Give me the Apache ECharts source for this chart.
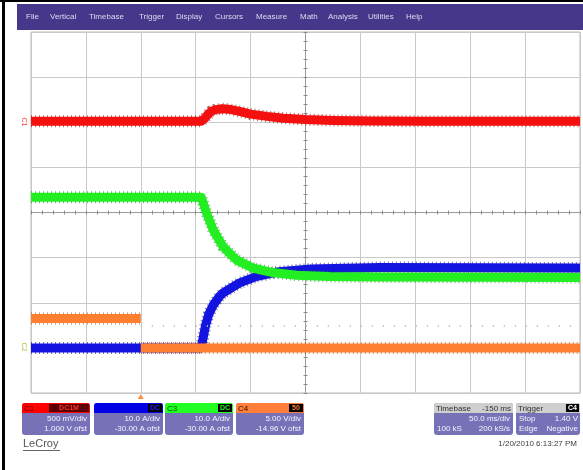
<!DOCTYPE html>
<html>
<head>
<meta charset="utf-8">
<script src="https://cdn.jsdelivr.net/npm/echarts@6/dist/echarts.min.js"></script>
<style>
html,body{margin:0;padding:0;background:#fff;}
#chart{width:583px;height:470px;}
</style>
</head>
<body>
<div id="chart"></div>
<script>
// ---- Data (time in ms, vertical position in screen divisions, 0 = centre) ----
const c1Time = [-100, 55, 58, 61, 64, 68, 74, 80, 90, 100, 115, 130, 150, 175, 210, 260, 400];
const c1Div  = [2.02, 2.02, 2.08, 2.17, 2.24, 2.28, 2.30, 2.29, 2.24, 2.18, 2.13, 2.09, 2.06, 2.04, 2.03, 2.02, 2.02];

const c2Time = [-100, 55, 57, 59, 62, 66, 72, 75, 90, 105, 126, 155, 218, 400];
const c2Div  = [-3.0, -3.0, -2.75, -2.5, -2.25, -2.05, -1.85, -1.78, -1.56, -1.42, -1.31, -1.25, -1.22, -1.23];

const c3Time = [-100, 55, 60, 66, 75, 87, 102, 120, 142, 172, 218, 400];
const c3Div  = [0.34, 0.34, -0.02, -0.39, -0.76, -1.05, -1.23, -1.33, -1.39, -1.42, -1.43, -1.44];

const c4PreTime  = [-100, 0];
const c4PreDiv   = [-2.35, -2.35];
const c4PostTime = [0, 400];
const c4PostDiv  = [-3.0, -3.0];

const menuItems = ['File','Vertical','Timebase','Trigger','Display','Cursors','Measure','Math','Analysis','Utilities','Help'];
const menuX = [26, 50, 89, 139, 176, 215, 256, 300, 328, 368, 406];

const chanNames   = ['C1','C2','C3','C4'];
const chanScale   = ['500 mV/div','10.0 A/div','10.0 A/div','5.00 V/div'];
const chanOffset  = ['1.000 V ofst','-30.00 A ofst','-30.00 A ofst','-14.96 V ofst'];
const chanBadge   = ['DC1M','DC','DC','50'];
const timebaseTxt = ['Timebase','-150 ms','50.0 ms/div','100 kS','200 kS/s'];
const triggerTxt  = ['Trigger','C4','Stop','1.40 V','Edge','Negative'];
const dateTxt = '1/20/2010 6:13:27 PM';

function zip(t, v){ return t.map((x,i)=>[x, v[i]]); }

const FONT = '"Liberation Sans", Arial, sans-serif';

function trace(name, t, v, main, dark, z){
  return [
    {name: name+'_edge', type:'line', xAxisIndex:0, yAxisIndex:0, data: zip(t,v), showSymbol:false,
     silent:true, z:z, lineStyle:{color:dark, width:12, type:[1,3], cap:'butt', join:'round', opacity:0.55}},
    {name: name, type:'line', xAxisIndex:0, yAxisIndex:0, data: zip(t,v), showSymbol:false,
     silent:true, z:z+0.5, lineStyle:{color:main, width:9, join:'round'}}
  ];
}

const chart = echarts.init(document.getElementById('chart'), null, {renderer:'canvas'});

const series = [].concat(
  trace('C2', c2Time, c2Div, '#1414e0', '#000070', 2),
  trace('C3', c3Time, c3Div, '#22ee22', '#0a7a0a', 3),
  trace('C1', c1Time, c1Div, '#f51010', '#800000', 4),
  trace('C4a', c4PreTime, c4PreDiv, '#ff7f30', '#9a3a08', 5),
  trace('C4b', c4PostTime, c4PostDiv, '#ff7f30', '#9a3a08', 5)
);
// faint dotted trigger-level line
series.push({type:'line', xAxisIndex:0, yAxisIndex:0, data:[], silent:true,
  markLine:{symbol:'none', silent:true, label:{show:false},
    lineStyle:{color:'#bbbbbb', type:[1,10], width:2},
    data:[[{coord:[0,-2.52]},{coord:[400,-2.52]}]]}});

const option = {
  animation:false,
  backgroundColor:'#ffffff',
  grid:{left:31, top:32, width:549, height:361, show:true, borderColor:'#b8b8b8', borderWidth:1, backgroundColor:'#fff'},
  xAxis:[
    {type:'value', min:-100, max:400, interval:50, axisLine:{show:false}, axisTick:{show:false}, axisLabel:{show:false},
     splitLine:{show:true, lineStyle:{color:'#c9c9c9', width:1}}},
    {type:'value', min:-5, max:5, interval:1, position:'bottom', axisLine:{show:true, onZero:true, onZeroAxisIndex:1, lineStyle:{color:'#9a9a9a', width:1}},
     axisTick:{show:true, inside:true, length:2, lineStyle:{color:'#8a8a8a'}}, minorTick:{show:true, splitNumber:5, length:2, lineStyle:{color:'#8a8a8a'}},
     axisLabel:{show:false}, splitLine:{show:false}},
    {type:'value', min:-5, max:5, interval:1, position:'top', axisLine:{show:false, onZero:true, onZeroAxisIndex:1},
     axisTick:{show:true, inside:true, length:2, lineStyle:{color:'#8a8a8a'}}, minorTick:{show:true, splitNumber:5, length:2, lineStyle:{color:'#8a8a8a'}},
     axisLabel:{show:false}, splitLine:{show:false}}
  ],
  yAxis:[
    {type:'value', min:-4, max:4, interval:1, axisLine:{show:false}, axisTick:{show:false}, axisLabel:{show:false},
     splitLine:{show:true, lineStyle:{color:'#c9c9c9', width:1}}},
    {type:'value', min:-4, max:4, interval:1, position:'left', axisLine:{show:true, onZero:true, onZeroAxisIndex:1, lineStyle:{color:'#9a9a9a', width:1}},
     axisTick:{show:true, inside:true, length:2, lineStyle:{color:'#8a8a8a'}}, minorTick:{show:true, splitNumber:5, length:2, lineStyle:{color:'#8a8a8a'}},
     axisLabel:{show:false}, splitLine:{show:false}},
    {type:'value', min:-4, max:4, interval:1, position:'right', axisLine:{show:false, onZero:true, onZeroAxisIndex:1},
     axisTick:{show:true, inside:true, length:2, lineStyle:{color:'#8a8a8a'}}, minorTick:{show:true, splitNumber:5, length:2, lineStyle:{color:'#8a8a8a'}},
     axisLabel:{show:false}, splitLine:{show:false}}
  ],
  series: series
};
// empty series so the centre-cross axes render
option.series.push({type:'line', xAxisIndex:1, yAxisIndex:1, data:[], silent:true});
option.series.push({type:'line', xAxisIndex:2, yAxisIndex:2, data:[], silent:true});
option.series.push({type:'line', xAxisIndex:1, yAxisIndex:2, data:[], silent:true});
chart.setOption(option);

// ---- decorations ----
const g = [];
// frame
g.push({type:'rect', shape:{x:0,y:0,width:583,height:2}, style:{fill:'#000'}, silent:true});
g.push({type:'rect', shape:{x:2,y:0,width:3,height:470}, style:{fill:'#000'}, silent:true});
// menu bar
g.push({type:'rect', shape:{x:17,y:4,width:566,height:26}, style:{fill:'#46378a'}, silent:true});
menuItems.forEach((m,i)=>{
  g.push({type:'text', x:menuX[i], y:17, style:{text:m, fill:'#dcdcf0', font:'8px '+FONT, textVerticalAlign:'middle'}, silent:true});
});

// channel labels at left
g.push({type:'text', x:24, y:122, rotation:-Math.PI/2, style:{text:'C1', fill:'#ff4040', font:'7px '+FONT, textAlign:'center', textVerticalAlign:'middle'}, silent:true});
g.push({type:'text', x:24, y:347, rotation:-Math.PI/2, style:{text:'C2', fill:'#b0c040', font:'7px '+FONT, textAlign:'center', textVerticalAlign:'middle'}, silent:true});

// trigger marker
const trigPx = chart.convertToPixel({xAxisIndex:0}, 0);
g.push({type:'polygon', shape:{points:[[trigPx-3,399],[trigPx+3,399],[trigPx,394]]}, style:{fill:'#ff8c40'}, silent:true});

// channel boxes
const boxX = [22, 94, 165, 236];
const boxW = [68, 69, 68, 68];
const headFill = ['#ff0000','#0000e6','#22ff22','#ff7f3a'];
const headTxtCol = ['#600000','#000060','#005000','#201000'];
const badgeFill = ['#5a0000','#000000','#000000','#000000'];
const badgeTxt  = ['#ff3030','#2020ff','#22ff22','#ff7f3a'];
const bodyFill = '#7771b7';
for(let i=0;i<4;i++){
  const x=boxX[i], w=boxW[i];
  g.push({type:'rect', shape:{x:x,y:403,width:w,height:32,r:3}, style:{fill:bodyFill}, silent:true});
  g.push({type:'rect', shape:{x:x,y:403,width:w,height:10,r:[3,3,0,0]}, style:{fill:headFill[i]}, silent:true});
  const bw = i===0 ? 40 : 14;
  g.push({type:'rect', shape:{x:x+w-bw-1,y:404,width:bw,height:8}, style:{fill:badgeFill[i]}, silent:true});
  g.push({type:'text', x:x+w-bw/2-1, y:408.5, style:{text:chanBadge[i], fill:badgeTxt[i], font:'bold 7px '+FONT, textAlign:'center', textVerticalAlign:'middle'}, silent:true});
  if(i!==1) g.push({type:'text', x:x+2, y:408.5, style:{text:chanNames[i], fill:headTxtCol[i], font:'8px '+FONT, textVerticalAlign:'middle'}, silent:true});
  g.push({type:'text', x:x+w-3, y:419, style:{text:chanScale[i], fill:'#f4f4ff', font:'8px '+FONT, textAlign:'right', textVerticalAlign:'middle'}, silent:true});
  g.push({type:'text', x:x+w-3, y:429, style:{text:chanOffset[i], fill:'#f4f4ff', font:'8px '+FONT, textAlign:'right', textVerticalAlign:'middle'}, silent:true});
}
// timebase box
g.push({type:'rect', shape:{x:434,y:403,width:79,height:32,r:3}, style:{fill:bodyFill}, silent:true});
g.push({type:'rect', shape:{x:434,y:403,width:79,height:10,r:[3,3,0,0]}, style:{fill:'#cfcfcf'}, silent:true});
g.push({type:'text', x:436, y:408.5, style:{text:timebaseTxt[0], fill:'#303030', font:'8px '+FONT, textVerticalAlign:'middle'}, silent:true});
g.push({type:'text', x:511, y:408.5, style:{text:timebaseTxt[1], fill:'#303030', font:'8px '+FONT, textAlign:'right', textVerticalAlign:'middle'}, silent:true});
g.push({type:'text', x:510, y:419, style:{text:timebaseTxt[2], fill:'#f4f4ff', font:'8px '+FONT, textAlign:'right', textVerticalAlign:'middle'}, silent:true});
g.push({type:'text', x:437, y:429, style:{text:timebaseTxt[3], fill:'#f4f4ff', font:'8px '+FONT, textVerticalAlign:'middle'}, silent:true});
g.push({type:'text', x:510, y:429, style:{text:timebaseTxt[4], fill:'#f4f4ff', font:'8px '+FONT, textAlign:'right', textVerticalAlign:'middle'}, silent:true});
// trigger box
g.push({type:'rect', shape:{x:516,y:403,width:64,height:32,r:3}, style:{fill:bodyFill}, silent:true});
g.push({type:'rect', shape:{x:516,y:403,width:64,height:10,r:[3,3,0,0]}, style:{fill:'#cfcfcf'}, silent:true});
g.push({type:'text', x:518, y:408.5, style:{text:triggerTxt[0], fill:'#303030', font:'8px '+FONT, textVerticalAlign:'middle'}, silent:true});
g.push({type:'rect', shape:{x:566,y:404,width:13,height:8}, style:{fill:'#000'}, silent:true});
g.push({type:'text', x:572.5, y:408.5, style:{text:triggerTxt[1], fill:'#ffffff', font:'bold 7px '+FONT, textAlign:'center', textVerticalAlign:'middle'}, silent:true});
g.push({type:'text', x:519, y:419, style:{text:triggerTxt[2], fill:'#f4f4ff', font:'8px '+FONT, textVerticalAlign:'middle'}, silent:true});
g.push({type:'text', x:578, y:419, style:{text:triggerTxt[3], fill:'#f4f4ff', font:'8px '+FONT, textAlign:'right', textVerticalAlign:'middle'}, silent:true});
g.push({type:'text', x:519, y:429, style:{text:triggerTxt[4], fill:'#f4f4ff', font:'8px '+FONT, textVerticalAlign:'middle'}, silent:true});
g.push({type:'text', x:578, y:429, style:{text:triggerTxt[5], fill:'#f4f4ff', font:'8px '+FONT, textAlign:'right', textVerticalAlign:'middle'}, silent:true});
// date + logo
g.push({type:'text', x:577, y:444, style:{text:dateTxt, fill:'#404040', font:'8px '+FONT, textAlign:'right', textVerticalAlign:'middle'}, silent:true});
g.push({type:'text', x:23, y:444, style:{text:'LeCroy', fill:'#555555', font:'11px '+FONT, textVerticalAlign:'middle'}, silent:true});
g.push({type:'rect', shape:{x:23,y:450,width:37,height:1}, style:{fill:'#666'}, silent:true});

chart.setOption({graphic:{elements:g}});
</script>
</body>
</html>
